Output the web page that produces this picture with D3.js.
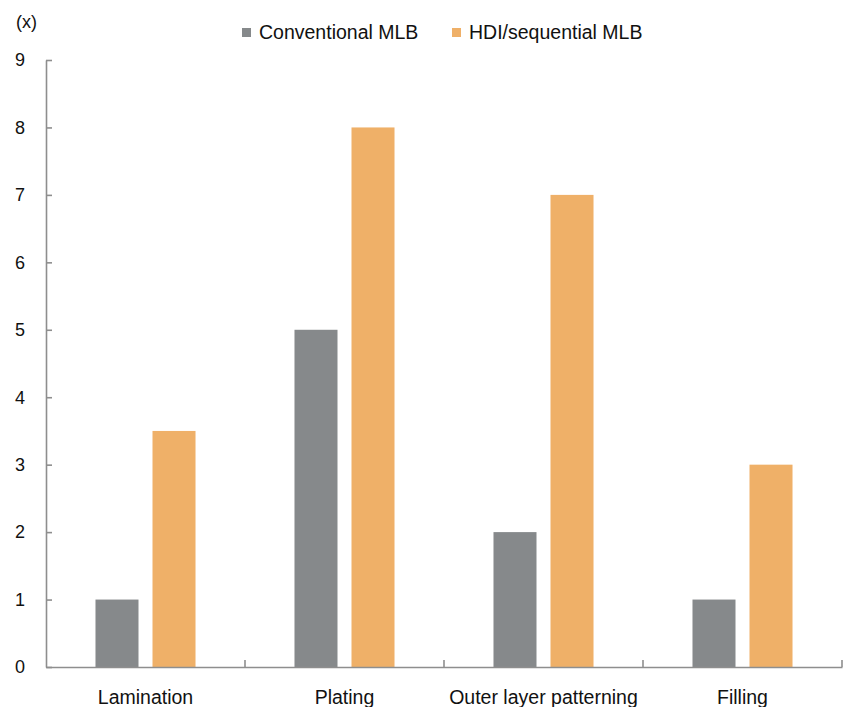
<!DOCTYPE html>
<html>
<head>
<meta charset="utf-8">
<script src="https://cdn.jsdelivr.net/npm/d3@7"></script>
<style>
  html, body { margin: 0; padding: 0; background: #fff; }
  svg { display: block; }
  text { font-family: "Liberation Sans", Arial, sans-serif; fill: #111; }
</style>
</head>
<body>
<svg id="chart" width="850" height="707"></svg>
<script>
// Process steps and the relative multiple for each board type
const categories = ["Lamination", "Plating", "Outer layer patterning", "Filling"];
const seriesNames = ["Conventional MLB", "HDI/sequential MLB"];
const conventional = [1, 5, 2, 1];
const hdiSequential = [3.5, 8, 7, 3];
const yTicks = [0, 1, 2, 3, 4, 5, 6, 7, 8, 9];
const colors = ["#86898b", "#efb068"];

const svg = d3.select("#chart");
const plot = { left: 46, right: 842, top: 60, bottom: 667 };
const axisColor = "#8e8e8e";

const x = d3.scaleBand().domain(categories).range([plot.left, plot.right]).paddingInner(0).paddingOuter(0);
const xInner = d3.scaleBand().domain(seriesNames).range([0, x.bandwidth()])
  .paddingInner(0.2456).paddingOuter(0.868);
const y = d3.scaleLinear().domain([0, 9]).range([plot.bottom, plot.top]);

const seriesValues = [conventional, hdiSequential];

// Bars
seriesNames.forEach((name, si) => {
  svg.append("g").selectAll("rect")
    .data(categories.map((c, i) => ({ c, v: seriesValues[si][i] })))
    .join("rect")
    .attr("x", d => x(d.c) + xInner(name))
    .attr("y", d => y(d.v))
    .attr("width", xInner.bandwidth())
    .attr("height", d => y(0) - y(d.v))
    .attr("fill", colors[si]);
});

// Y axis: ticks point inward, labels drawn separately
const yAxis = svg.append("g").attr("transform", `translate(${plot.left},0)`)
  .call(d3.axisRight(y).tickValues(yTicks).tickSize(6).tickSizeOuter(0).tickFormat(""));
yAxis.select(".domain").attr("stroke", axisColor).attr("stroke-width", 1.6);
yAxis.selectAll(".tick line").attr("stroke", axisColor).attr("stroke-width", 1.6);

svg.append("g").selectAll("text")
  .data(yTicks)
  .join("text")
  .attr("x", 25)
  .attr("y", d => y(d))
  .attr("dy", "0.35em")
  .attr("text-anchor", "end")
  .style("font-size", "18px")
  .text(d => d);

// X axis with ticks at category boundaries
const xAxis = svg.append("g").attr("transform", `translate(0,${plot.bottom})`)
  .call(d3.axisBottom(x).tickSize(0).tickSizeOuter(0).tickFormat(""));
xAxis.select(".domain").attr("stroke", axisColor).attr("stroke-width", 1.6);
xAxis.selectAll(".tick").remove();
xAxis.selectAll("line.sep")
  .data(categories)
  .join("line")
  .attr("class", "sep")
  .attr("x1", d => x(d) + x.bandwidth())
  .attr("x2", d => x(d) + x.bandwidth())
  .attr("y1", 0)
  .attr("y2", -7)
  .attr("stroke", axisColor)
  .attr("stroke-width", 1.6);

svg.append("g").selectAll("text")
  .data(categories)
  .join("text")
  .attr("x", d => x(d) + x.bandwidth() / 2)
  .attr("y", 704)
  .attr("text-anchor", "middle")
  .style("font-size", "19.5px")
  .text(d => d);

// Unit label
svg.append("text")
  .attr("x", 16)
  .attr("y", 28)
  .style("font-size", "18px")
  .text("(x)");

// Legend
const legendX = [242, 469 - 17];
const legend = svg.append("g");
seriesNames.forEach((name, i) => {
  const g = legend.append("g").attr("transform", `translate(${legendX[i]},0)`);
  g.append("rect").attr("x", 0).attr("y", 28).attr("width", 9).attr("height", 9).attr("fill", colors[i]);
  g.append("text").attr("x", 17).attr("y", 39).style("font-size", "19.5px").text(name);
});
</script>
</body>
</html>
